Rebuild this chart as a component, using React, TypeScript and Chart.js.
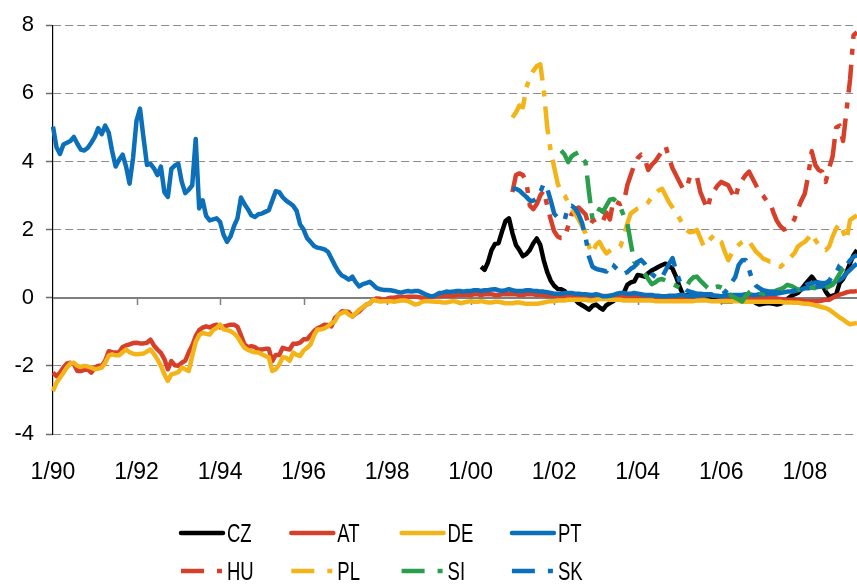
import { useEffect, useRef } from "react";
import { Chart, registerables } from "chart.js";
Chart.register(...registerables);

// ---------- categories (monthly, 1/90 .. 4/09) ----------
const MONTH_COUNT = 232;
const MONTH_LABELS: string[] = [];
for (let i = 0; i < MONTH_COUNT; i++) {
  const yy = (1990 + Math.floor(i / 12)) % 100;
  MONTH_LABELS.push(`${(i % 12) + 1}/${String(yy).padStart(2, "0")}`);
}
const X_LABEL_EVERY = 24;

const Y_MIN = -4;
const Y_MAX = 8;
const Y_STEP = 2;

// ---------- series ----------
const PT = [
  5.02, 4.42, 4.22, 4.5, 4.55, 4.6, 4.72, 4.52, 4.35, 4.32,
  4.4, 4.55, 4.72, 4.98, 4.8, 5.05, 4.85, 4.3, 3.85, 4.05,
  4.2, 3.85, 3.35, 4.1, 5.2, 5.55, 4.7, 3.9, 3.93, 3.8,
  3.6, 3.85, 3.1, 2.96, 3.78, 3.88, 3.93, 3.4, 3.07, 3.17,
  3.3, 4.66, 2.62, 2.86, 2.4, 2.27, 2.3, 2.33, 2.23, 1.85,
  1.64, 1.8, 2.1, 2.33, 2.94, 2.75, 2.6, 2.42, 2.37, 2.45,
  2.47, 2.52, 2.57, 2.85, 3.13, 3.1, 2.95, 2.85, 2.78, 2.7,
  2.55, 2.15, 2.0, 1.75, 1.64, 1.52, 1.47, 1.45, 1.42, 1.35,
  1.15, 0.95, 0.77, 0.65, 0.6, 0.53, 0.62, 0.45, 0.33, 0.4,
  0.43, 0.47, 0.38, 0.28, 0.25, 0.23, 0.23, 0.22, 0.2, 0.17,
  0.15,
  0.18, 0.2, 0.18, 0.2, 0.2, 0.15, 0.1, 0.06,
  0.04, 0.08, 0.14, 0.15, 0.18, 0.17, 0.18, 0.2,
  0.2, 0.18, 0.2, 0.2, 0.22, 0.22, 0.2, 0.22,
  0.22, 0.24, 0.25, 0.22, 0.2, 0.22, 0.25, 0.22,
  0.2, 0.2, 0.2, 0.22, 0.22, 0.2, 0.2, 0.18,
  0.18, 0.16, 0.14, 0.12, 0.12, 0.12, 0.14, 0.14,
  0.14, 0.12, 0.12, 0.1, 0.1, 0.09, 0.08, 0.1,
  0.08, 0.04, 0.04, 0.06, 0.08, 0.12, 0.14, 0.14,
  0.12, 0.12, 0.14, 0.12, 0.1, 0.08, 0.08, 0.08,
  0.06, 0.06, 0.04, 0.04, 0.06, 0.06, 0.06, 0.08,
  0.08, 0.06, 0.06, 0.04, 0.06, 0.08, 0.08, 0.08,
  0.08, 0.06, 0.06, 0.04, 0.06, 0.08, 0.08, 0.08,
  0.08, 0.08, 0.1, 0.1, 0.08, 0.08, 0.1, 0.1,
  0.1, 0.12, 0.12, 0.12, 0.14, 0.16, 0.18, 0.18,
  0.2, 0.22, 0.24, 0.28, 0.28, 0.3, 0.3, 0.32,
  0.33, 0.35, 0.38, 0.42, 0.48, 0.52, 0.6, 0.72, 0.82, 0.92, 1.0,
];

const AT = [
  -2.2, -2.3, -2.2, -2.05, -1.93, -1.91, -1.95, -2.15, -2.15, -2.12,
  -2.1, -2.2, -2.05, -2.0, -2.0, -1.85, -1.57, -1.6, -1.61, -1.6,
  -1.45, -1.4, -1.37, -1.33, -1.32, -1.34, -1.34, -1.32, -1.23, -1.4,
  -1.52, -1.62, -1.8, -2.1, -1.86, -1.98, -2.0, -1.91, -1.85, -1.6,
  -1.4, -1.13, -0.95, -0.88, -0.84, -0.87, -0.82, -0.79, -0.87, -0.85,
  -0.82, -0.79, -0.79, -0.85, -1.1, -1.37, -1.45, -1.42, -1.45, -1.52,
  -1.52, -1.5, -1.5, -1.86, -1.68, -1.68, -1.47, -1.5, -1.52, -1.35,
  -1.35, -1.32, -1.22, -1.22, -1.1, -0.98, -0.9, -0.85, -0.79, -0.8,
  -0.84, -0.6, -0.5, -0.4, -0.4, -0.42, -0.55, -0.47, -0.4, -0.3,
  -0.2, -0.17, -0.06, -0.02, -0.03, -0.08, -0.03, 0.0, 0.0, 0.02,
  0.02,
  0.02, 0.03, 0.03, 0.03, 0.02, 0.0, 0.0, 0.02, 0.02, 0.04,
  0.05, 0.05, 0.06, 0.06, 0.06, 0.08, 0.08, 0.08, 0.08, 0.08,
  0.1, 0.1, 0.08, 0.1, 0.1, 0.1, 0.08, 0.08, 0.1, 0.1,
  0.1, 0.1, 0.1, 0.08, 0.08, 0.1, 0.1, 0.1, 0.08, 0.08,
  0.08, 0.06, 0.06, 0.06, 0.05, 0.05, 0.05, 0.05, 0.06, 0.06,
  0.06, 0.05, 0.04, 0.04, 0.04, 0.04, 0.04, 0.05, 0.05, 0.05,
  0.06, 0.06, 0.06, 0.06, 0.06, 0.05, 0.05, 0.04, 0.04, 0.04,
  0.04, 0.03, 0.03, 0.02, 0.02, 0.02, 0.02, 0.02, 0.02, 0.02,
  0.02, 0.02, 0.02, 0.03, 0.04, 0.04, 0.06, 0.08, 0.08, 0.06,
  0.04, 0.04, 0.04, 0.03, 0.03, 0.02, 0.02, 0.0, 0.0, 0.0,
  0.0, 0.0, 0.0, 0.0, 0.0, 0.0, 0.0, -0.02, -0.04, -0.05,
  -0.06, -0.06, -0.06, -0.08, -0.08, -0.1, -0.1, -0.1, -0.1, -0.1,
  -0.08, -0.06, -0.06, 0.0, 0.05, 0.09, 0.12, 0.16, 0.18, 0.18, 0.2,
];

const DE = [
  -2.74, -2.49, -2.35, -2.2, -2.05, -1.93, -1.91, -2.0, -2.03, -2.0,
  -2.02, -2.05, -2.1, -2.08, -2.05, -1.91, -1.7, -1.66, -1.69, -1.69,
  -1.6, -1.52, -1.6, -1.64, -1.66, -1.65, -1.64, -1.58, -1.52, -1.65,
  -1.81, -2.0, -2.25, -2.44, -2.25, -2.22, -2.18, -2.05, -2.1, -2.15,
  -1.71, -1.3, -1.1, -1.03, -1.06, -1.08, -0.95, -0.89, -0.79, -0.93,
  -0.95, -0.98, -1.05, -1.15, -1.32, -1.47, -1.53, -1.57, -1.6, -1.61,
  -1.66, -1.71, -1.75, -2.15, -2.1, -1.96, -1.75, -1.76, -1.85, -1.61,
  -1.68, -1.71, -1.55, -1.47, -1.37, -1.1, -0.93, -0.93, -0.9, -0.84,
  -0.75, -0.69, -0.5, -0.45, -0.4, -0.5, -0.55, -0.45, -0.35, -0.28,
  -0.2, -0.17, -0.06, -0.09, -0.11, -0.1, -0.1, -0.1, -0.12, -0.1,
  -0.08,
  -0.08, -0.1, -0.15, -0.2, -0.18, -0.12, -0.1, -0.1, -0.11, -0.12,
  -0.12, -0.14, -0.14, -0.12, -0.1, -0.12, -0.16, -0.14, -0.12, -0.1,
  -0.12, -0.12, -0.1, -0.12, -0.14, -0.14, -0.12, -0.12, -0.14, -0.16,
  -0.16, -0.16, -0.14, -0.14, -0.16, -0.18, -0.18, -0.18, -0.18, -0.16,
  -0.14, -0.12, -0.1, -0.1, -0.08, -0.08, -0.08, -0.06, -0.06, -0.06,
  -0.06, -0.06, -0.06, -0.08, -0.08, -0.06, -0.04, -0.04, -0.04, -0.06,
  -0.06, -0.06, -0.06, -0.08, -0.08, -0.08, -0.08, -0.08, -0.08, -0.08,
  -0.08, -0.08, -0.1, -0.1, -0.1, -0.1, -0.1, -0.1, -0.1, -0.1,
  -0.1, -0.1, -0.1, -0.1, -0.08, -0.08, -0.08, -0.08, -0.1, -0.1,
  -0.1, -0.1, -0.1, -0.1, -0.1, -0.1, -0.1, -0.12, -0.12, -0.12,
  -0.12, -0.12, -0.12, -0.12, -0.12, -0.12, -0.12, -0.12, -0.12, -0.14,
  -0.14, -0.14, -0.15, -0.15, -0.16, -0.18, -0.18, -0.2, -0.22, -0.25,
  -0.28, -0.3, -0.35, -0.42, -0.5, -0.58, -0.64, -0.72, -0.78, -0.76, -0.74,
];

const CZ_START = 123;
const CZ = [
  0.91, 0.82, 1.05, 1.4, 1.58, 1.6, 1.94, 2.25, 2.33, 1.9,
  1.55, 1.4, 1.22, 1.28, 1.4, 1.6, 1.74, 1.55, 1.1, 0.75,
  0.5, 0.35, 0.26, 0.25, 0.2, 0.05, 0.0, -0.05, -0.16, -0.22,
  -0.28, -0.35, -0.24, -0.2, -0.28, -0.35, -0.22, -0.16, -0.1, 0.0,
  0.08, 0.14, 0.38, 0.45, 0.48, 0.67, 0.65, 0.62, 0.72, 0.8,
  0.85, 0.91, 0.96, 1.0, 0.93, 0.85, 0.62, 0.33, 0.09, 0.07,
  0.07, 0.05, 0.04, 0.06, 0.09, 0.04, -0.02, -0.06, -0.08, -0.1,
  -0.1, -0.1, -0.1, -0.05, 0.0, 0.02, 0.04, 0.04, -0.1, -0.16,
  -0.2, -0.18, -0.16, -0.16, -0.18, -0.2, -0.18, -0.1, -0.04, 0.04,
  0.1, 0.14, 0.25, 0.38, 0.5, 0.62, 0.48, 0.42, 0.38, 0.18,
  0.04, 0.06, 0.09, 0.43, 0.55, 0.75, 1.01, 1.25, 1.4,
];

const HU_START = 132;
const HU = [
  3.1, 3.6, 3.65, 3.6, 3.4, 2.7, 2.6, 2.75, 3.0, 3.15,
  2.7, 2.3, 1.95, 1.8, 1.75, 1.75, 2.1, 2.45, 2.6, 2.65,
  2.55, 2.45, 2.1, 2.25, 2.3, 2.2, 2.25, 2.5, 2.3, 2.85,
  2.8, 2.75, 2.8, 3.3, 3.6, 3.9, 4.1, 4.2, 4.1, 3.75,
  3.9, 4.0, 4.15, 4.3, 4.45, 4.1, 3.8, 3.6, 3.4, 3.2,
  3.2, 3.55, 3.6, 3.55, 3.1, 2.85, 2.6, 3.0, 3.15, 3.3,
  3.4, 3.35, 3.3, 3.1, 2.9, 3.3, 3.45, 3.6, 3.7, 3.5,
  3.3, 3.1, 3.0, 2.85, 2.8, 2.5, 2.25, 2.1, 2.0, 2.05,
  2.15, 2.3, 2.6, 2.85, 3.05, 3.6, 4.3, 3.9, 3.75, 3.7,
  3.4, 3.8, 4.15, 5.0, 5.05, 4.6, 5.5, 6.4, 7.7, 7.8,
];

const PL_START = 132;
const PL = [
  5.29, 5.44, 5.64, 5.59, 6.17, 6.46, 6.66, 6.8, 6.85, 6.1,
  5.0, 4.3, 3.83, 3.35, 3.1, 3.0, 2.8, 2.6, 2.47, 2.3,
  2.1, 1.89, 1.5, 1.3, 1.55, 1.64, 1.45, 1.3, 1.38, 1.45,
  1.48, 1.5, 1.8, 2.18, 2.47, 2.55, 2.62, 2.67, 2.71, 2.8,
  2.95, 3.06, 3.15, 3.2, 3.0, 2.8, 2.65, 2.5, 2.33, 2.15,
  1.99, 1.92, 1.94, 1.99, 1.75, 1.5, 1.6, 1.74, 1.84, 1.7,
  1.64, 1.35, 1.1, 1.3, 1.45, 1.55, 1.64, 1.7, 1.65, 1.5,
  1.35, 1.26, 1.15, 1.11, 1.06, 1.05, 0.95, 0.91, 1.0, 1.1,
  1.2, 1.3, 1.5, 1.58, 1.64, 1.75, 1.89, 1.7, 1.55, 1.45,
  1.4, 1.5, 1.8, 2.03, 2.18, 1.95, 1.69, 2.28, 2.35, 2.42,
];

const SI_START = 146;
const SI = [
  4.32, 4.2, 3.98, 4.15, 4.22, 4.27, 4.1, 3.98, 3.1, 2.3,
  2.42, 2.6, 2.52, 2.7, 2.88, 2.9, 2.8, 2.67, 2.4, 2.2,
  1.6, 1.06, 0.96, 0.85, 0.7, 0.55, 0.4, 0.45, 0.53, 0.55,
  0.5, 0.48, 0.4, 0.35, 0.3, 0.3, 0.33, 0.5, 0.6, 0.62,
  0.5, 0.4, 0.3, 0.22, 0.3, 0.33, 0.3, 0.25, 0.14, 0.05,
  0.0, -0.05, -0.11, 0.05, 0.15, 0.23, 0.2, 0.15, 0.12, 0.12,
  0.15, 0.18, 0.22, 0.25, 0.3, 0.38, 0.35, 0.3, 0.23, 0.25,
  0.28, 0.3, 0.3, 0.28, 0.28, 0.28, 0.28, 0.33, 0.38, 0.53,
  0.7, 0.87, 0.95,
];

const SK_START = 132;
const SK = [
  3.2, 3.2, 3.15, 3.05, 2.96, 2.85, 2.85, 2.91, 3.1, 3.35,
  3.2, 2.86, 2.47, 2.35, 2.3, 2.28, 2.67, 2.7, 2.62, 2.45,
  2.2, 1.79, 1.2, 0.91, 0.85, 0.82, 0.8, 0.77, 1.0, 0.95,
  0.85, 0.75, 0.7, 0.75, 0.85, 0.91, 1.05, 1.11, 1.0, 0.82,
  0.7, 0.62, 0.55, 0.6, 0.8, 1.0, 1.16, 0.8, 0.5, 0.3,
  0.22, 0.18, 0.15, 0.12, 0.12, 0.1, 0.1, 0.1, 0.08, 0.08,
  0.1, 0.15, 0.28, 0.45, 0.6, 0.96, 1.1, 1.11, 0.82, 0.5,
  0.35, 0.28, 0.22, 0.2, 0.18, 0.18, 0.15, 0.15, 0.15, 0.16,
  0.18, 0.2, 0.28, 0.3, 0.35, 0.4, 0.43, 0.45, 0.45, 0.43,
  0.43, 0.5, 0.65, 0.72, 0.95, 1.01, 0.95, 1.1, 1.2, 1.25,
];

const SERIES_NAMES = ["CZ", "AT", "DE", "PT", "HU", "PL", "SI", "SK"];

// ---------- styling ----------
const C_BLACK = "#000000";
const C_RED = "#d6402b";
const C_YELLOW = "#f3b41a";
const C_BLUE = "#0b6fba";
const C_GREEN = "#2b9e4b";
const CHART_DASH = [28, 10, 6, 10];
const LEGEND_DASH = [23, 13, 5, 13];
const FONT = '"Liberation Sans", Arial, sans-serif';

function padFrom(start: number, values: number[]): (number | null)[] {
  const out: (number | null)[] = new Array(start).fill(null);
  return out.concat(values);
}

const zeroLinePlugin = {
  id: "zeroLine",
  beforeDatasetsDraw(chart: any) {
    const { ctx, chartArea, scales } = chart;
    const y0 = Math.round(scales.y.getPixelForValue(0));
    ctx.save();
    ctx.strokeStyle = "#7f7f7f";
    ctx.lineWidth = 2;
    ctx.beginPath();
    ctx.moveTo(chartArea.left, y0);
    ctx.lineTo(chartArea.right, y0);
    ctx.stroke();
    ctx.lineWidth = 1.5;
    for (let i = X_LABEL_EVERY; i < MONTH_COUNT; i += X_LABEL_EVERY) {
      const x = Math.round(scales.x.getPixelForValue(i)) + 0.5;
      ctx.beginPath();
      ctx.moveTo(x, y0);
      ctx.lineTo(x, y0 + 7);
      ctx.stroke();
    }
    ctx.restore();
  },
};

const LEG_X0 = 181;
const LEG_DX = 110.3;
const LEG_LINE = 42;
const LEG_Y = [533, 571];

const legendPlugin = {
  id: "customLegend",
  afterDraw(chart: any) {
    const ctx = chart.ctx;
    chart.data.datasets.forEach((ds: any, i: number) => {
      const row = Math.floor(i / 4);
      const col = i % 4;
      const x0 = LEG_X0 + col * LEG_DX;
      const y = LEG_Y[row];
      ctx.save();
      ctx.strokeStyle = ds.borderColor;
      ctx.lineWidth = 4.5;
      const dashed = ds.borderDash && ds.borderDash.length > 0;
      ctx.setLineDash(dashed ? LEGEND_DASH : []);
      ctx.lineCap = dashed ? "butt" : "round";
      ctx.beginPath();
      ctx.moveTo(x0, y);
      ctx.lineTo(x0 + LEG_LINE, y);
      ctx.stroke();
      ctx.setLineDash([]);
      ctx.fillStyle = "#000";
      ctx.font = `25px ${FONT}`;
      ctx.textBaseline = "middle";
      ctx.textAlign = "left";
      ctx.translate(x0 + LEG_LINE + 4, y + 2);
      ctx.scale(0.74, 1);
      ctx.fillText(ds.label, 0, 0);
      ctx.restore();
    });
  },
};

export default function App() {
  const canvasRef = useRef<HTMLCanvasElement | null>(null);

  useEffect(() => {
    document.body.style.margin = "0";
    const canvas = canvasRef.current;
    if (!canvas) return;

    const colors = [C_BLACK, C_RED, C_YELLOW, C_BLUE, C_RED, C_YELLOW, C_GREEN, C_BLUE];
    const series = [
      padFrom(CZ_START, CZ),
      AT,
      DE,
      PT,
      padFrom(HU_START, HU),
      padFrom(PL_START, PL),
      padFrom(SI_START, SI),
      padFrom(SK_START, SK),
    ];

    const datasets = SERIES_NAMES.map((name, i) => ({
      label: name,
      data: series[i],
      borderColor: colors[i],
      backgroundColor: colors[i],
      borderWidth: 4.5,
      borderDash: i >= 4 ? CHART_DASH : [],
      borderJoinStyle: "round" as const,
      pointRadius: 0,
      pointHoverRadius: 0,
      tension: 0,
      fill: false,
      spanGaps: false,
      order: SERIES_NAMES.length - i,
    }));

    const chart = new Chart(canvas, {
      type: "line",
      data: { labels: MONTH_LABELS, datasets },
      plugins: [zeroLinePlugin, legendPlugin],
      options: {
        animation: false,
        responsive: false,
        maintainAspectRatio: false,
        events: [],
        layout: { padding: { top: 25, right: 0, bottom: 100, left: 0 } },
        plugins: {
          legend: { display: false },
          tooltip: { enabled: false },
          title: { display: false },
        },
        scales: {
          x: {
            type: "category",
            offset: false,
            grid: { display: false, drawTicks: false },
            border: { display: false },
            ticks: {
              autoSkip: false,
              maxRotation: 0,
              minRotation: 0,
              padding: 25,
              color: "#000",
              font: { family: FONT, size: 23 },
              callback: (_v: any, idx: number) =>
                idx % X_LABEL_EVERY === 0 ? MONTH_LABELS[idx] : null,
            },
            afterFit: (scale: any) => {
              scale.height = 50;
              scale.paddingLeft = 0;
              scale.paddingRight = 0;
            },
          },
          y: {
            min: Y_MIN,
            max: Y_MAX,
            ticks: {
              stepSize: Y_STEP,
              padding: 12,
              color: "#000",
              font: { family: FONT, size: 22 },
            },
            grid: {
              color: "#8c8c8c",
              lineWidth: 1,
              drawTicks: true,
              tickLength: 7,
              tickColor: "#6e6e6e",
              tickWidth: 1.5,
            },
            border: { display: true, color: "#000", width: 1.2, dash: [8, 4] },
            afterFit: (scale: any) => {
              scale.width = 53;
            },
          },
        },
      },
    } as any);

    return () => chart.destroy();
  }, []);

  return (
    <div style={{ width: 857, height: 584, position: "relative", background: "#fff" }}>
      <canvas ref={canvasRef} width={857} height={584} style={{ display: "block" }} />
    </div>
  );
}
